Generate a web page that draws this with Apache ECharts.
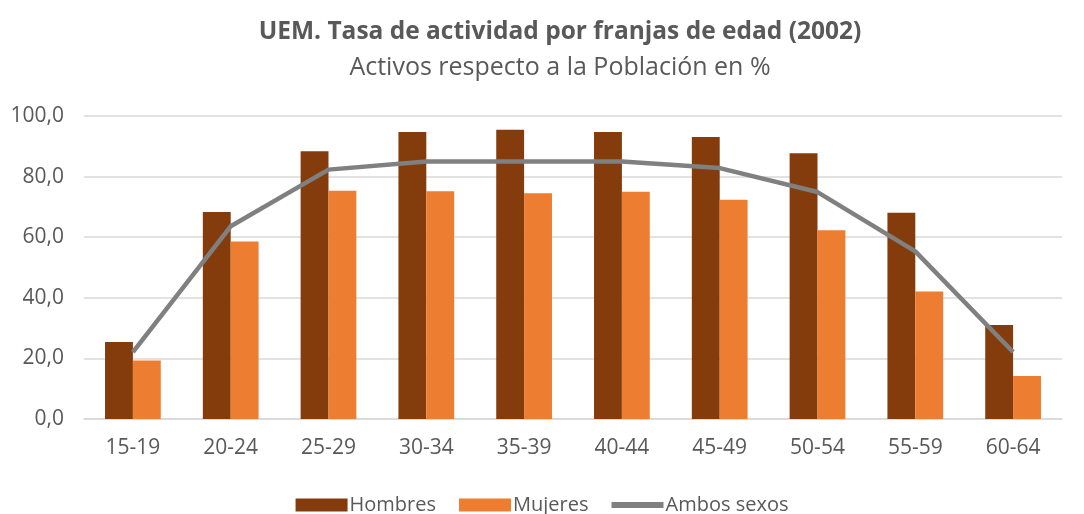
<!DOCTYPE html>
<html>
<head>
<meta charset="utf-8">
<script src="https://cdn.jsdelivr.net/npm/echarts@6/dist/echarts.min.js"></script>
<style>
  html, body { margin: 0; padding: 0; background: #fff; }
  #chartWrapper { width: 1084px; height: 514px; }
</style>
</head>
<body>
<div id="chartWrapper"></div>
<script>
// datos
let categorias = ['15-19', '20-24', '25-29', '30-34', '35-39', '40-44', '45-49', '50-54', '55-59', '60-64'];
let hombres = [25.4, 68.3, 88.4, 94.7, 95.5, 94.7, 93.1, 87.7, 68.1, 31.0];
let mujeres = [19.3, 58.6, 75.3, 75.2, 74.5, 75.0, 72.4, 62.3, 42.1, 14.2];
let ambosSexos = [22.1, 63.6, 82.3, 85.0, 85.0, 85.0, 82.8, 74.9, 55.3, 22.1];

let fuente = 'Open Sans';
let gris = '#595959';

let myChart = echarts.init(document.getElementById('chartWrapper'));

let option = {
    animation: false,
    title: [
        {
            text: 'UEM. Tasa de actividad por franjas de edad (2002)',
            left: 555,
            textAlign: 'center',
            top: 15,
            textStyle: { fontFamily: fuente, fontSize: 24.5, fontWeight: 'bold', color: gris }
        },
        {
            text: 'Activos respecto a la Población en %',
            left: 555,
            textAlign: 'center',
            top: 50,
            textStyle: { fontFamily: fuente, fontSize: 25, fontWeight: 'normal', color: gris }
        }
    ],
    legend: {
        top: 490,
        left: 'center',
        itemWidth: 52,
        itemHeight: 13,
        itemGap: 23,
        textStyle: { fontFamily: fuente, fontSize: 20, color: gris, padding: [0, 0, 0, -3] },
        data: [
            { name: 'Hombres', icon: 'rect' },
            { name: 'Mujeres', icon: 'rect' },
            { name: 'Ambos sexos', icon: 'path://M0,0 L52,0 L52,6 L0,6 Z' }
        ]
    },
    grid: {
        left: 84,
        right: 22,
        top: 116,
        bottom: 95
    },
    xAxis: {
        type: 'category',
        data: categorias,
        axisTick: { show: false },
        axisLine: { lineStyle: { color: '#d9d9d9', width: 1.5 } },
        axisLabel: { fontFamily: fuente, fontSize: 21, color: gris, margin: 19 }
    },
    yAxis: {
        type: 'value',
        min: 0,
        max: 100,
        interval: 20,
        axisLabel: {
            fontFamily: fuente, fontSize: 21, color: gris, margin: 20,
            formatter: function (v) { return v.toFixed(1).replace('.', ','); }
        },
        splitLine: { lineStyle: { color: '#d9d9d9', width: 1.5 } }
    },
    series: [
        {
            name: 'Hombres',
            type: 'bar',
            data: hombres,
            barGap: '0%',
            barCategoryGap: '43%',
            itemStyle: { color: '#843c0c' }
        },
        {
            name: 'Mujeres',
            type: 'bar',
            data: mujeres,
            itemStyle: { color: '#ed7d31' }
        },
        {
            name: 'Ambos sexos',
            type: 'line',
            data: ambosSexos,
            symbol: 'none',
            itemStyle: { color: '#808080' },
            lineStyle: { color: '#808080', width: 4.5 }
        }
    ]
};

myChart.setOption(option);
</script>
</body>
</html>
